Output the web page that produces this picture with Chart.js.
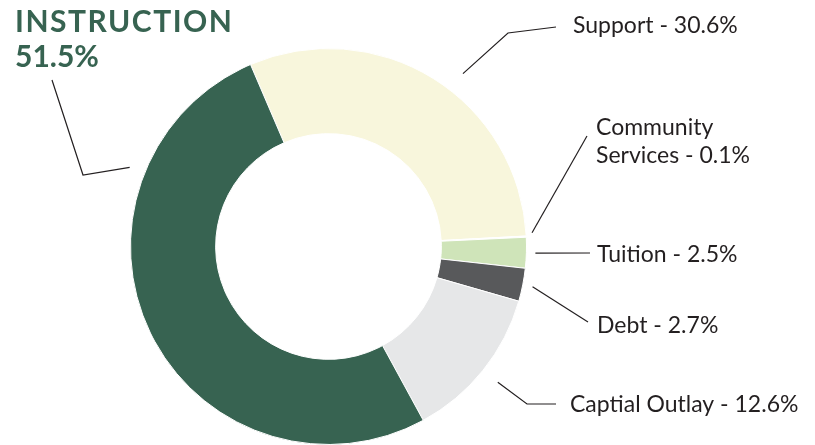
<!DOCTYPE html>
<html>
<head>
<meta charset="utf-8">
<script src="https://cdn.jsdelivr.net/npm/chart.js@4.4.0/dist/chart.umd.min.js"></script>
<style>
  html, body { margin: 0; padding: 0; background: #ffffff; }
  #wrap { position: relative; width: 815px; height: 445px; }
</style>
</head>
<body>
<div id="wrap"><canvas id="chartBudget" width="815" height="445"></canvas></div>
<script>
// ---- data ----
const categories = ["Support", "Community Services", "Tuition", "Debt", "Captial Outlay", "Instruction"];
const shares = [30.6, 0.1, 2.5, 2.7, 12.6, 51.5];
const couleurs = ["#f8f6dc", "#ffffff", "#cfe4b9", "#58595b", "#e6e7e8", "#376351"];

// ---- callouts (texte + traits) ----
const FONT_LABEL = "23px Lato";
const callouts = [
  { i: 0, shift: 6, gap: 21, pts: [[508, 33], [556, 27]], lines: ["Support - 30.6%"], tx: 573, ty: 33 },
  { i: 1, shift: -1, gap: 6, pts: [[587, 136]], lines: ["Community", "Services - 0.1%"], tx: 596, ty: 135 },
  { i: 2, shift: 0, gap: 9, pts: [[590, 253]], lines: ["Tuition - 2.5%"], tx: 597, ty: 262 },
  { i: 3, shift: 0, gap: 10, pts: [[588, 322]], lines: ["Debt - 2.7%"], tx: 597, ty: 333 },
  { i: 4, shift: 0, gap: 19, pts: [[527, 404], [556, 404]], lines: ["Captial Outlay - 12.6%"], tx: 570, ty: 412 },
  { i: 5, shift: 47.6, gap: 16, pts: [[83, 175], [52, 80]], lines: [], tx: 0, ty: 0 },
];

const calloutPlugin = {
  id: "callouts",
  afterDatasetsDraw(chart) {
    const ctx = chart.ctx;
    const meta = chart.getDatasetMeta(0);
    ctx.save();
    ctx.strokeStyle = "#231f20";
    ctx.lineWidth = 1.2;
    callouts.forEach((c) => {
      const arc = meta.data[c.i];
      const a = (arc.startAngle + arc.endAngle) / 2 + (c.shift * Math.PI) / 180;
      const r = arc.outerRadius + c.gap;
      ctx.beginPath();
      ctx.moveTo(arc.x + r * Math.cos(a), arc.y + r * Math.sin(a));
      c.pts.forEach((p) => ctx.lineTo(p[0], p[1]));
      ctx.stroke();
      ctx.fillStyle = "#231f20";
      ctx.font = FONT_LABEL;
      ctx.textBaseline = "alphabetic";
      c.lines.forEach((t, k) => ctx.fillText(t, c.tx, c.ty + k * 28));
    });
    // titre Instruction
    ctx.fillStyle = "#376351";
    ctx.font = "bold 30px Lato";
    ctx.letterSpacing = "1.5px";
    ctx.fillText(categories[5].toUpperCase(), 15, 32);
    ctx.letterSpacing = "0px";
    ctx.fillText(shares[5] + "%", 15, 67);
    ctx.restore();
  },
};

new Chart(document.getElementById("chartBudget"), {
  type: "doughnut",
  data: {
    labels: categories,
    datasets: [
      {
        data: shares,
        backgroundColor: couleurs,
        borderColor: "#ffffff",
        borderWidth: 1,
      },
    ],
  },
  options: {
    responsive: false,
    animation: false,
    rotation: -23.2,
    cutout: "57%",
    layout: { padding: { left: 130, right: 288, top: 48, bottom: 0 } },
    plugins: {
      legend: { display: false },
      tooltip: { enabled: false },
    },
    events: [],
  },
  plugins: [calloutPlugin],
});
</script>
</body>
</html>
